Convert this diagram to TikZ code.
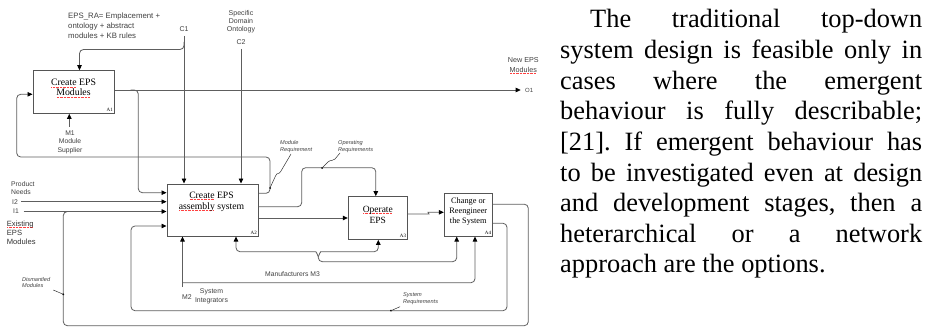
\documentclass[tikz,border=0pt]{standalone}
\usepackage{fontspec}
\setmainfont{Liberation Serif}
\newfontfamily\arialf{Liberation Sans}
\usetikzlibrary{arrows.meta}
\definecolor{lncol}{HTML}{5E5E5E}
\definecolor{boxcol}{HTML}{555555}
\definecolor{txtcol}{HTML}{404040}
\frenchspacing
\newsavebox\spellbox
\newcommand\spell[1]{\sbox\spellbox{#1}\rlap{\color{red!75}\leaders\hbox to 1.4pt{\hss\rule[-1.4pt]{0.6pt}{0.45pt}\hss}\hskip\wd\spellbox}\usebox\spellbox}
\tikzset{
  ln/.style={draw=lncol, line width=0.8pt, rounded corners=4pt},
  arr/.style={ln, -{Triangle[length=5pt,width=4.5pt,color=black]}},
  rarr/.style={ln, {Triangle[length=5pt,width=4.5pt,color=black]}-},
  box/.style={draw=boxcol, line width=1pt, fill=white, inner sep=0pt},
  boxtxt/.style={align=center, inner sep=0pt, anchor=north},
  alab/.style={font=\fontsize{5}{5}\selectfont, inner sep=0pt, anchor=south east},
  lab/.style={font=\arialf\fontsize{7}{8.3}\selectfont, text=txtcol, inner sep=0pt, align=center},
  ital/.style={font=\arialf\itshape\fontsize{5.6}{6.8}\selectfont, text=txtcol, inner sep=0pt, align=left, anchor=north west},
  body/.style={font=\fontsize{26.4}{30.6}\selectfont, inner sep=0pt, anchor=base west},
  squig/.style={draw=black!80, line width=0.5pt},
}
\begin{document}
\begin{tikzpicture}[x=1pt,y=-1pt]
\useasboundingbox (0,0) rectangle (927,329);

% ---------- body text ----------
\node[body] (t1) at (560,28)   {\makebox[362pt][s]{\hspace*{30pt}The traditional top-down}};
\node[body] (t2) at (560,58.6) {\makebox[362pt][s]{system design is feasible only in}};
\node[body] (t3) at (560,89.2) {\makebox[362pt][s]{cases where the emergent}};
\node[body] (t4) at (560,119.8){\makebox[362pt][s]{behaviour is fully describable;}};
\node[body] (t5) at (560,150.4){\makebox[362pt][s]{[21]. If emergent behaviour has}};
\node[body] (t6) at (560,181)  {\makebox[362pt][s]{to be investigated even at design}};
\node[body] (t7) at (560,211.6){\makebox[362pt][s]{and development stages, then a}};
\node[body] (t8) at (560,242.2){\makebox[362pt][s]{heterarchical or a network}};
\node[body] (t9) at (560,272.8){approach are the options.};

% ---------- boxes ----------
\node[box, minimum width=81pt, minimum height=42.6pt] (A1) at (73.5,92) {};
\node[box, minimum width=91pt, minimum height=52pt]   (A2) at (212.5,210) {};
\node[box, minimum width=59pt, minimum height=42.6pt] (A3) at (377.8,218) {};
\node[box, minimum width=48pt, minimum height=42.7pt] (A4) at (468.3,214.7) {};

\node[boxtxt, font=\fontsize{9.8}{10}\selectfont] (A1t) at (73.5,79.3) {\spell{Create} EPS\\\spell{Modules}};
\node[boxtxt, font=\fontsize{9.7}{11}\selectfont] (A2t) at (211.5,191.4) {\spell{Create} EPS\\\spell{assembly} system};
\node[boxtxt, font=\fontsize{9.5}{11}\selectfont] (A3t) at (377.8,206) {\spell{Operate}\\EPS};
\node[boxtxt, font=\fontsize{8.3}{10}\selectfont] (A4t) at (468.3,197.4) {Change or\\Reengineer\\the System};

\node[alab] (A1l) at ([xshift=-1.5pt,yshift=2pt]A1.south east) {A1};
\node[alab] (A2l) at ([xshift=-1.5pt,yshift=2pt]A2.south east) {A2};
\node[alab] (A3l) at ([xshift=-1.5pt,yshift=2pt]A3.south east) {A3};
\node[alab] (A4l) at ([xshift=-1.5pt,yshift=2pt]A4.south east) {A4};

% ---------- labels ----------
\node[lab, font=\arialf\fontsize{7.8}{9.7}\selectfont, align=left, anchor=north west] (eps) at (68,13)
  {EPS\_RA= Emplacement +\\ontology + abstract\\modules + KB rules};
\node[lab] (C1l) at (184,29.5) {C1};
\node[lab, font=\arialf\fontsize{7}{8}\selectfont, anchor=north] (sdo) at (241,10.7) {Specific\\Domain\\Ontology};
\node[lab] (C2l) at (241,42) {C2};
\node[lab, font=\arialf\fontsize{6.8}{8.3}\selectfont, anchor=north] (M1l) at (70,130.8) {M1\\Module\\Supplier};
\node[lab, font=\arialf\fontsize{6.8}{8.3}\selectfont, align=left, anchor=north west] (pn) at (11,181.4) {Product\\Needs};
\node[lab, anchor=west, font=\arialf\fontsize{6.8}{8}\selectfont] (I2l) at (12,201.7) {I2};
\node[lab, anchor=west, font=\arialf\fontsize{6.8}{8}\selectfont] (I1l) at (13,211.5) {I1};
\node[lab, font=\arialf\fontsize{7.6}{9.3}\selectfont, text=black!80, align=left, anchor=north west] (ex) at (6.7,220.5)
  {\spell{Existing}\\EPS\\Modules};
\node[lab, font=\arialf\fontsize{7.2}{10}\selectfont, anchor=north] (nem) at (523.3,57.2) {New EPS\\\spell{Modules}};
\node[lab, anchor=west, font=\arialf\fontsize{6}{7}\selectfont] (O1l) at (525,90) {O1};
\node[lab, anchor=west, font=\arialf\fontsize{6.9}{8}\selectfont] (M2l) at (182,296.7) {M2};
\node[lab, font=\arialf\fontsize{6.9}{8.4}\selectfont] (si) at (211.5,296.5) {System\\Integrators};
\node[lab, font=\arialf\fontsize{6.8}{8}\selectfont] (M3l) at (292.5,274.5) {Manufacturers M3};
\node[ital] (mrl) at (280,140.5) {Module\\Requirement};
\node[ital] (orl) at (338,140.5) {Operating\\Requirements};
\node[ital] (dml) at (22,276.9) {Dismantled\\Modules};
\node[ital] (srl) at (403,292.3) {System\\Requirements};

% ---------- coordinates ----------
\coordinate (c1) at (184,36);
\coordinate (c2) at (241,49);
\coordinate (o1) at (520.7,90);
\coordinate (m1) at (69.3,126.7);
\coordinate (m2) at (182.5,287);
\coordinate (i2) at (21,201.7);
\coordinate (i1) at (23.5,211.5);

% ---------- connectors ----------
\draw[arr] (c1) -- (c1 |- A2.north);
\draw[arr] ([yshift=-6pt]c1) |- ([xshift=47pt,yshift=20.7pt]A1.north west) -- ([xshift=47pt]A1.north west);
\draw[arr] (c2) -- (c2 |- A2.north);
\draw[arr] ([yshift=2pt]A1.east) -- (o1);
\draw[arr] ([yshift=2pt,xshift=16pt]A1.east) -| (138.3,192.7) -- ([yshift=17.3pt]A2.west);
\draw[arr] (m1) -- (m1 |- A1.south);
\draw[arr] (i2) -- (i2 -| A2.west);
\draw[arr] (i1) -- (i1 -| A2.west);
\draw[arr] ([yshift=16.7pt]A2.east) -| (270,157) -| (16.7,94.3) -- ([yshift=-2.3pt]A1.west);
\draw[arr] ([yshift=3.3pt]A2.east) -| (301.7,167.7) -| ([xshift=-2pt]A3.north);
\draw[arr] (A2.east |- A3.west) -- (A3.west);
\draw[arr] ([yshift=4pt]A3.east) -- (425,214) to[out=0,in=180] (432,212.3) -- ([yshift=2.4pt]A4.west);
\draw[ln] ([yshift=10.5pt]A4.east) -| (528.3,325.7) -| (63.3,211.5) -- (72,211.5);
\draw[arr] ([yshift=-8.6pt]A4.east) -| (507,310.7) -| (131,226) -- ([yshift=-16pt]A2.west);
\draw[arr] (m2) -- (m2 |- A2.south);
\draw[arr] ([yshift=4.3pt]m2) -| ([xshift=6.7pt]A4.south);
\draw[rarr] ([xshift=23.5pt]A2.south) |- (312,251.7) to[out=0,in=95] (318.3,256.7);
\draw[rarr] ([xshift=0.5pt]A3.south) |- (324.6,251.7) to[out=180,in=85] (318.3,256.7);
\draw[rarr] ([xshift=-11.6pt]A4.south) |- (318.3,261.7) -- (318.3,256.7);

% ---------- annotation pointers ----------
\fill (270,188) circle (1pt);
\draw[squig] (270,188) -- (275.5,176) .. controls (277,172) and (279,175) .. (281,171) -- (291,154);
\fill (322,168) circle (1pt);
\draw[squig] (322,168) -- (328,162) .. controls (331,159) and (333,162) .. (335,159) -- (340,153);
\fill (63.3,294.3) circle (1pt);
\draw[squig] (63.3,294.3) -- (53.3,290);
\fill (391,310.7) circle (1pt);
\draw[squig] (391,310.7) -- (400,306.7);
\end{tikzpicture}
\end{document}
